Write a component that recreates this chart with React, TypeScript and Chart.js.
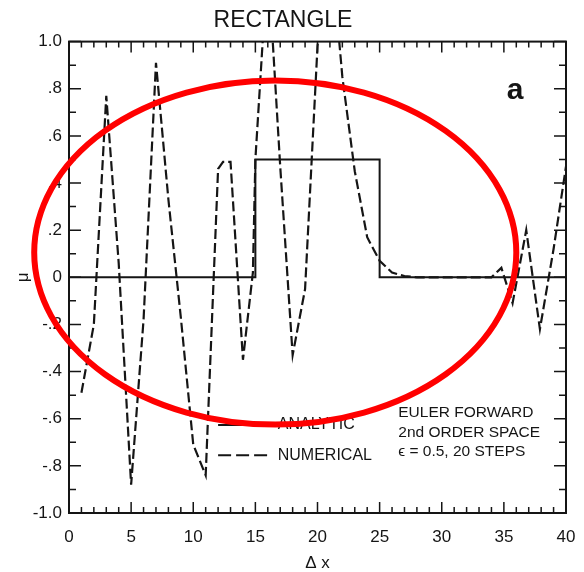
import { useEffect, useRef } from "react";
import { Chart, registerables } from "chart.js";

Chart.register(...registerables);

const FONT = "'Liberation Sans', Arial, Helvetica, sans-serif";
const INK = "#151515";

// Analytic solution: rectangle of height 0.5 between x = 15 and 25
const analyticX = [0, 15, 15, 25, 25, 40];
const analyticY = [0, 0, 0.5, 0.5, 0, 0];

// Numerical solution (Euler forward, 2nd order space)
const numericalX = [
  1, 2, 3, 4, 5, 6, 7, 8, 9, 10, 11, 12, 12.4, 13, 14, 14.8, 15, 16, 17, 18, 19, 20,
  21, 22, 23, 24, 25, 26, 27, 28, 29, 30, 31, 32, 33, 34, 34.8, 35.7, 36.8, 37.9, 39, 40,
];
const numericalY = [
  -0.49, -0.2, 0.77, 0.06, -0.88, -0.18, 0.91, 0.33, -0.17, -0.71, -0.84, 0.46, 0.49, 0.49,
  -0.35, 0.02, 0.5, 1.35, 0.47, -0.33, -0.05, 0.98, 1.45, 0.85, 0.45, 0.17, 0.07, 0.02,
  0.005, 0, 0, 0, 0, 0, 0, 0, 0.04, -0.11, 0.2, -0.22, 0.12, 0.47,
];

const yTickValues = [-1, -0.8, -0.6, -0.4, -0.2, 0, 0.2, 0.4, 0.6, 0.8, 1];
const yTickLabels = ["-1.0", "-.8", "-.6", "-.4", "-.2", "0", ".2", ".4", ".6", ".8", "1.0"];
const xTickValues = [0, 5, 10, 15, 20, 25, 30, 35, 40];

const legendLabels = ["ANALYTIC", "NUMERICAL"];
const noteLines = ["EULER FORWARD", "2nd ORDER SPACE", "\u03F5 = 0.5, 20 STEPS"];
const panelLabel = "a";

const decorPlugin = {
  id: "decor",
  afterDraw(chart: any) {
    const { ctx, chartArea: a, scales } = chart;
    const xs = scales.x;
    const ys = scales.y;
    const X = (v: number) => xs.getPixelForValue(v);
    const Y = (v: number) => ys.getPixelForValue(v);
    ctx.save();

    // frame
    ctx.strokeStyle = INK;
    ctx.lineWidth = 2;
    ctx.strokeRect(a.left, a.top, a.right - a.left, a.bottom - a.top);

    // inward ticks
    ctx.lineWidth = 1.5;
    ctx.beginPath();
    for (let v = 0; v <= 40; v += 1) {
      const px = X(v);
      const len = v % 5 === 0 ? 11 : 6;
      ctx.moveTo(px, a.bottom);
      ctx.lineTo(px, a.bottom - len);
      ctx.moveTo(px, a.top);
      ctx.lineTo(px, a.top + len);
    }
    for (let i = -10; i <= 10; i += 1) {
      const py = Y(i / 10);
      const len = i % 2 === 0 ? 12 : 7;
      ctx.moveTo(a.left, py);
      ctx.lineTo(a.left + len, py);
      ctx.moveTo(a.right, py);
      ctx.lineTo(a.right - len, py);
    }
    ctx.stroke();

    // legend inside plot
    ctx.fillStyle = INK;
    ctx.font = `16px ${FONT}`;
    ctx.textBaseline = "middle";
    ctx.textAlign = "left";
    const legY = [-0.627, -0.755];
    for (let i = 0; i < legendLabels.length; i++) {
      const py = Y(legY[i]);
      ctx.lineWidth = 2;
      ctx.setLineDash(i === 0 ? [] : [13, 5]);
      ctx.beginPath();
      ctx.moveTo(X(12.0), py);
      ctx.lineTo(X(16.0), py);
      ctx.stroke();
      ctx.setLineDash([]);
      ctx.fillText(legendLabels[i], X(16.8), py);
    }

    // note text
    ctx.font = `15.5px ${FONT}`;
    const noteY = [-0.575, -0.66, -0.742];
    for (let i = 0; i < noteLines.length; i++) {
      ctx.fillText(noteLines[i], X(26.5), Y(noteY[i]));
    }

    // panel label
    ctx.font = `bold 30px ${FONT}`;
    ctx.textAlign = "center";
    ctx.fillText(panelLabel, X(35.9), Y(0.79));

    // red ellipse overlay
    const cx = X(16.6);
    const cy = Y(0.105);
    const rx = X(16.6 + 19.4) - cx;
    const ry = cy - Y(0.105 + 0.73);
    ctx.strokeStyle = "#ff0000";
    ctx.lineWidth = 6;
    ctx.beginPath();
    ctx.ellipse(cx, cy, rx, ry, 0, 0, Math.PI * 2);
    ctx.stroke();

    ctx.restore();
  },
};

export default function App() {
  const ref = useRef<HTMLCanvasElement>(null);

  useEffect(() => {
    if (!ref.current) return;
    const labelFor = (v: number) => {
      const idx = yTickValues.findIndex((t) => Math.abs(t - v) < 1e-6);
      return idx >= 0 ? yTickLabels[idx] : "";
    };
    const chart = new Chart(ref.current, {
      type: "line",
      data: {
        datasets: [
          {
            label: "ANALYTIC",
            data: analyticX.map((x, i) => ({ x, y: analyticY[i] })),
            borderColor: INK,
            borderWidth: 2,
            pointRadius: 0,
            tension: 0,
            fill: false,
          },
          {
            label: "NUMERICAL",
            data: numericalX.map((x, i) => ({ x, y: numericalY[i] })),
            borderColor: INK,
            borderWidth: 2.2,
            borderDash: [10, 4],
            pointRadius: 0,
            tension: 0,
            fill: false,
          },
        ],
      },
      options: {
        animation: false,
        responsive: false,
        maintainAspectRatio: false,
        layout: { padding: { left: 0, right: 18, top: 0, bottom: 0 } },
        plugins: {
          legend: { display: false },
          tooltip: { enabled: false },
          title: {
            display: true,
            text: "RECTANGLE",
            color: INK,
            font: { family: FONT, size: 23, weight: "normal" },
            padding: { top: 7, bottom: 7 },
          },
        },
        scales: {
          x: {
            type: "linear",
            min: 0,
            max: 40,
            afterBuildTicks: (s: any) => {
              s.ticks = xTickValues.map((v) => ({ value: v }));
            },
            ticks: {
              color: INK,
              font: { family: FONT, size: 17 },
              padding: 14,
              maxRotation: 0,
              autoSkip: false,
            },
            grid: { display: false, drawTicks: false },
            border: { display: false },
            title: {
              display: true,
              text: "\u0394 x",
              color: INK,
              font: { family: FONT, size: 17 },
              padding: { top: 0, bottom: -2 },
            },
            afterFit: (s: any) => {
              s.height = 59;
              s.paddingLeft = 0;
              s.paddingRight = 0;
            },
          },
          y: {
            type: "linear",
            min: -1,
            max: 1,
            afterBuildTicks: (s: any) => {
              s.ticks = yTickValues.map((v) => ({ value: v }));
            },
            ticks: {
              color: INK,
              font: { family: FONT, size: 17 },
              padding: 7,
              autoSkip: false,
              callback: (v: any) => labelFor(Number(v)),
            },
            grid: { display: false, drawTicks: false },
            border: { display: false },
            title: {
              display: true,
              text: "\u03BC",
              color: INK,
              font: { family: FONT, size: 17 },
              padding: { top: 13, bottom: 0 },
            },
            afterFit: (s: any) => {
              s.width = 69;
              s.paddingTop = 0;
              s.paddingBottom = 0;
            },
          },
        },
      },
      plugins: [decorPlugin],
    });
    return () => chart.destroy();
  }, []);

  return (
    <div style={{ position: "fixed", left: 0, top: 0, width: 584, height: 572, background: "#fff" }}>
      <canvas ref={ref} width={584} height={572} style={{ display: "block" }} />
    </div>
  );
}
